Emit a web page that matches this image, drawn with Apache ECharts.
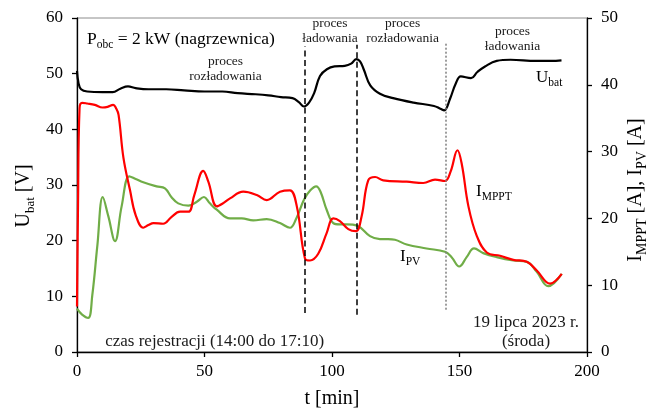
<!DOCTYPE html>
<html>
<head>
<meta charset="utf-8">
<script src="https://cdn.jsdelivr.net/npm/echarts/dist/echarts.min.js"></script>
<style>
  html, body { margin: 0; padding: 0; background: #fff; }
  #chart { width: 656px; height: 414px; }
</style>
</head>
<body>
<div id="chart"></div>
<script>
const SERIF = '"Liberation Serif", "Times New Roman", serif';

// Axis ranges
const xRange = [0, 200, 50];      // t [min]
const uRange = [0, 60, 10];       // U_bat [V]
const iRange = [0, 50, 10];       // I [A]

// Battery voltage U_bat [V]
const tUbat = [0, 0.6, 1.6, 4, 10, 14, 17, 20, 23, 28, 35, 42, 50, 57, 63, 70, 75, 80, 84.5, 87,
  89, 91, 93, 95.3, 98, 101, 105, 107.5, 109.5, 111, 112.5, 115, 118.8, 124, 132, 140, 142.5, 144,
  146.3, 148.5, 150.5, 154.5, 157, 160, 164.6, 170, 180, 186, 190];
const uBat = [50.5, 48.3, 47.2, 46.8, 46.7, 46.7, 47.3, 47.7, 47.4, 47.2, 47.2, 47.0, 46.8, 46.8, 46.5,
  46.3, 46.1, 45.8, 45.6, 44.9, 44.1, 44.8, 46.5, 49.6, 50.8, 51.3, 51.4, 51.8, 52.6, 52.2, 50.7, 47.9,
  46.4, 45.6, 44.8, 44.2, 43.7, 43.4, 45.5, 48.2, 49.5, 49.2, 50.3, 51.3, 52.3, 52.5, 52.3, 52.3, 52.4];

// MPPT controller current I_MPPT [A]
const tMppt = [0, 0.4, 1, 2, 4, 7, 10, 12, 14.2, 15.3, 16.3, 18.2, 20.8, 23, 26, 28, 30, 33.8, 37, 40.4,
  43.7, 46, 49.5, 51.5, 54.8, 57, 60, 65.2, 70.5, 74.4, 79.6, 83.5, 86.2, 89.4, 91.4, 94.6, 97.9, 100.5,
  103.1, 106.4, 109.4, 111.6, 114.2, 116.9, 120.1, 129.3, 135.8, 140.4, 144.3, 146.5, 149.2, 150.9,
  153.5, 156.8, 160.7, 165.9, 171.1, 176.4, 180.3, 185.5, 190.1];
const iMppt = [6.8, 22, 36.5, 37.3, 37.2, 37.0, 36.6, 36.7, 37.0, 36.5, 35.5, 29.1, 24.2, 20.5, 18.6,
  19.0, 19.3, 19.2, 20.2, 21.0, 21.0, 23.5, 27.1, 25.5, 21.8, 22.2, 23.0, 24.0, 23.5, 22.75, 24.0, 24.2,
  21.8, 14.0, 13.7, 14.7, 17.8, 20.0, 19.6, 18.4, 18.1, 20.3, 25.7, 26.2, 25.7, 25.5, 25.3, 25.8, 25.6,
  27.0, 30.2, 28.1, 21.8, 17.35, 14.9, 14.4, 13.8, 13.5, 12.2, 10.25, 11.7];

// PV array current I_PV [A]
const tPv = [0, 2, 4.4, 6, 8, 10.1, 12.3, 14.9, 17.5, 20.5, 23, 26, 31.2, 34.5, 37, 39.7, 43.7, 47, 49.8,
  52, 54.8, 60, 64.6, 69.1, 74.4, 79.6, 83.5, 86, 89, 91.5, 93.8, 95.5, 97.9, 100.5, 103, 105.8, 109.9,
  114.9, 118.8, 122, 124.7, 129.3, 137.1, 144.3, 146.9, 149.9, 152.8, 155.7, 159.3, 164.6, 171.1,
  176.4, 180.3, 184.8, 190.1];
const iPv = [6.5, 5.6, 5.1, 8.5, 16, 23.2, 20.3, 16.6, 21.8, 26.3, 25.9, 25.4, 24.8, 24.5, 23.2, 22.25,
  21.9, 22.5, 23.2, 22.3, 21.3, 20.0, 20.0, 19.7, 19.9, 19.3, 18.6, 20.0, 22.8, 24.2, 24.8, 24.0, 21.3,
  19.3, 19.1, 19.1, 18.9, 17.35, 16.9, 16.9, 16.8, 16.1, 15.5, 15.0, 14.2, 12.8, 14.2, 15.5, 14.8, 14.2,
  13.7, 13.5, 12.0, 9.85, 11.7];

// Boundaries between charging / discharging phases [min] and their vertical extent [V]
const phaseBounds = [89.5, 109.7, 144.6];
const phaseSpans = [[7.0, 54.9], [6.7, 55.2], [7.6, 55.6]];
const phaseDash = [[6, 3.5], [6, 3.5], [2, 2]];
const phaseColor = ['#000000', '#000000', '#7f7f7f'];

const zip = (xs, ys) => xs.map((x, i) => [x, ys[i]]);

// rich-text styles: a main run and a lowered subscript run (lowered via top padding)
function richFor(main, sub) {
  const drop = 2 * (0.34 * (main - sub) + 0.2 * main);
  return {
    n: { fontSize: main, lineHeight: main + 4, fontFamily: SERIF, color: '#000', fill: '#000' },
    s: { fontSize: sub, padding: [drop, 0, 0, 0], fontFamily: SERIF, color: '#000', fill: '#000' }
  };
}

// x, y give the left (or centre) and vertical middle of the main run
function subText(x, y, str, main, sub, opts) {
  opts = opts || {};
  return {
    type: 'text',
    x: x, y: y,
    rotation: opts.rotation || 0,
    silent: true,
    style: {
      text: str,
      rich: richFor(main, sub),
      align: opts.align || 'left',
      textAlign: opts.align || 'left',
      verticalAlign: 'middle',
      textVerticalAlign: 'middle',
      fill: '#000'
    }
  };
}

function plainText(x, y, str, size, align, lh) {
  return {
    type: 'text',
    x: x, y: y,
    silent: true,
    style: {
      text: str,
      fontSize: size,
      fontFamily: SERIF,
      lineHeight: lh || size + 2,
      fill: '#1a1a1a',
      align: align || 'center',
      textAlign: align || 'center',
      verticalAlign: 'top',
      textVerticalAlign: 'top'
    }
  };
}

const chart = echarts.init(document.getElementById('chart'), null, { renderer: 'canvas' });

const axisCommon = {
  axisLine: { show: true, lineStyle: { color: '#000', width: 1.3 } },
  axisTick: { show: true, length: 5, lineStyle: { color: '#000', width: 1.3 } },
  axisLabel: { color: '#000', fontSize: 17, fontFamily: SERIF, margin: 14 },
  splitLine: { show: false }
};

const lineCommon = { type: 'line', smooth: 0.4, showSymbol: false, symbol: 'none', clip: true };

chart.setOption({
  animation: false,
  textStyle: { fontFamily: SERIF },
  grid: { left: 77, right: 69, top: 18, bottom: 56, show: true, borderColor: '#8c8c8c', borderWidth: 1 },
  xAxis: Object.assign({}, axisCommon, {
    type: 'value', min: xRange[0], max: xRange[1], interval: xRange[2],
    name: 't [min]', nameLocation: 'middle', nameGap: 37,
    nameTextStyle: { color: '#000', fontSize: 20, fontFamily: SERIF },
    axisLabel: Object.assign({}, axisCommon.axisLabel, { margin: 11 })
  }),
  yAxis: [
    Object.assign({}, axisCommon, {
      type: 'value', position: 'left', min: uRange[0], max: uRange[1], interval: uRange[2]
    }),
    Object.assign({}, axisCommon, {
      type: 'value', position: 'right', min: iRange[0], max: iRange[1], interval: iRange[2]
    })
  ],
  series: [
    Object.assign({}, lineCommon, {
      name: 'U_bat', yAxisIndex: 0, data: zip(tUbat, uBat),
      lineStyle: { color: '#000', width: 2.2 }, z: 3,
      markLine: {
        silent: true, symbol: ['none', 'none'], label: { show: false },
        data: phaseBounds.map((t, i) => [
          { coord: [t, phaseSpans[i][0]], lineStyle: { color: phaseColor[i], type: phaseDash[i], width: 1.5 } },
          { coord: [t, phaseSpans[i][1]] }
        ])
      }
    }),
    Object.assign({}, lineCommon, {
      name: 'I_PV', yAxisIndex: 1, data: zip(tPv, iPv),
      lineStyle: { color: '#70ad47', width: 2.2 }, z: 3
    }),
    Object.assign({}, lineCommon, {
      name: 'I_MPPT', yAxisIndex: 1, data: zip(tMppt, iMppt),
      lineStyle: { color: '#ff0000', width: 2.2 }, z: 4
    })
  ],
  graphic: [
    // axis titles
    subText(24, 196, '{n|U}{s|bat}{n| [V]}', 20, 13, { rotation: Math.PI / 2, align: 'center' }),
    subText(636, 190, '{n|I}{s|MPPT}{n| [A], I}{s|PV}{n| [A]}', 20, 14, { rotation: Math.PI / 2, align: 'center' }),
    // in-plot annotations
    subText(87, 39, '{n|P}{s|obc}{n| = 2 kW (nagrzewnica)}', 17.5, 11.5),
    subText(536, 77.5, '{n|U}{s|bat}', 17, 11.5),
    subText(476, 191.5, '{n|I}{s|MPPT}', 17, 11.5),
    subText(400, 256.5, '{n|I}{s|PV}', 17, 11.5),
    plainText(225.5, 54.5, 'proces\nrozładowania', 13.5, 'center', 14.5),
    plainText(330, 16.3, 'proces\nładowania', 13.5, 'center', 14.5),
    plainText(402.7, 16.3, 'proces\nrozładowania', 13.5, 'center', 14.5),
    plainText(512.5, 24.5, 'proces\nładowania', 13.5, 'center', 14.5),
    plainText(214.7, 332, 'czas rejestracji (14:00 do 17:10)', 17, 'center', 19),
    plainText(526, 312.5, '19 lipca 2023 r.\n(środa)', 17, 'center', 19.5)
  ]
});
</script>
</body>
</html>
